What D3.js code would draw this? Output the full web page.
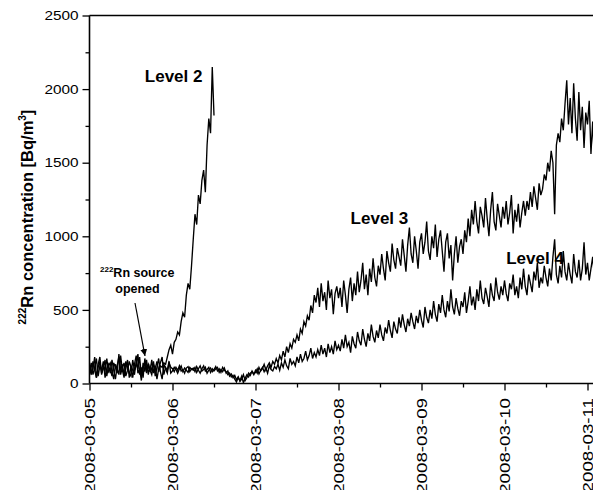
<!DOCTYPE html>
<html>
<head>
<meta charset="utf-8">
<script src="https://cdn.jsdelivr.net/npm/d3@7"></script>
<style>
  body { margin: 0; background: #fff; }
  text { font-family: "Liberation Sans", Arial, sans-serif; fill: #000; }
</style>
</head>
<body>
<div id="wrapper"></div>
<script>
// Readings every 30 minutes, starting 2008-03-05 00:00
const startTime = new Date(2008, 2, 5, 0, 0);
const stepMinutes = 30;

const level2 = [
  130, 70, 100, 180, 40, 110, 150, 60, 120, 90, 170, 80,
  100, 50, 140, 110, 70, 200, 90, 130, 60, 100, 160, 40,
  120, 90, 60, 150, 100, 180, 50, 110, 140, 70, 120, 90,
  60, 130, 100, 150, 80, 120, 110, 140, 130, 180, 230, 260,
  200, 280, 300, 350, 330, 420, 480, 450, 600, 680, 640, 800,
  980, 1150, 1080, 1280, 1220, 1380, 1450, 1300, 1620, 1800, 1700, 2150,
  1820
];

const level3 = [
  80, 140, 60, 110, 170, 50, 120, 90, 150, 40, 100, 130,
  70, 160, 90, 30, 120, 180, 60, 110, 140, 50, 90, 150,
  110, 40, 130, 190, 70, 100, 20, 140, 80, 160, 60, 120,
  90, 150, 50, 110, 170, 80, 30, 130, 100, 70, 140, 110,
  100, 80, 110, 90, 120, 85, 95, 70, 105, 115, 80, 100,
  90, 110, 75, 100, 120, 85, 95, 110, 70, 90, 105, 80,
  95, 115, 85, 100, 75, 110, 90, 80, 60, 70, 45, 55,
  30, 10, 40, 20, 50, 5, 35, 60, 45, 70, 80, 60,
  90, 70, 110, 85, 100, 130, 90, 120, 140, 110, 150, 130,
  170, 140, 190, 160, 220, 180, 250, 210, 270, 240, 300, 280,
  330, 290, 370, 340, 420, 390, 460, 430, 530, 480, 600, 550,
  650, 520, 680, 560, 620, 500, 700, 580, 640, 470, 610, 660,
  580, 650, 520, 700, 600, 480, 640, 720, 560, 680, 600, 760,
  620, 700, 820, 640, 740, 600, 780, 690, 850, 720, 660, 800,
  740, 880, 780, 700, 900, 820, 760, 950, 840, 780, 920, 860,
  800, 980, 870, 760, 940, 1060, 880, 820, 1000, 900, 780, 960,
  1020, 880, 960, 1100, 900, 840, 1000, 920, 1080, 860, 980, 1040,
  900, 760, 960, 1020, 850, 940, 700, 880, 1000, 820, 930, 980,
  880, 1040, 960, 1120, 1000, 1180, 1080, 1240, 1100, 1020, 1200, 1140,
  1060, 1260, 1120, 1000, 1180, 1300, 1100, 1040, 1220, 1140, 1060, 1200,
  1120, 1240, 1080, 1160, 1280, 1020, 1180, 1100, 1220, 1060, 1160, 1240,
  1140, 1240, 1180, 1300, 1200, 1340, 1260, 1180, 1360, 1280, 1320, 1420,
  1380, 1500, 1440, 1580, 1500, 1150, 1620, 1700, 1640, 1800, 1720, 1900,
  2060, 1760, 1940, 1700, 2040, 1800, 1650, 1980, 1720, 1880, 1600, 1840,
  1760, 1920, 1560, 1780, 1500
];

const level4 = [
  110, 60, 150, 90, 40, 130, 180, 70, 100, 160, 50, 120,
  140, 80, 30, 130, 100, 60, 190, 90, 40, 150, 110, 70,
  50, 160, 90, 120, 200, 60, 110, 40, 170, 100, 130, 80,
  160, 70, 120, 30, 100, 140, 180, 60, 110, 90, 150, 70,
  85, 110, 95, 70, 100, 120, 80, 105, 90, 75, 110, 95,
  105, 80, 115, 90, 70, 100, 120, 85, 95, 110, 75, 100,
  85, 100, 110, 75, 95, 80, 105, 70, 85, 50, 65, 40,
  55, 25, 45, 15, 30, 60, 20, 40, 70, 55, 85, 65,
  75, 100, 65, 90, 110, 80, 105, 70, 120, 95, 85, 115,
  100, 130, 90, 140, 110, 160, 120, 100, 170, 130, 150, 120,
  180, 140, 200, 150, 170, 220, 160, 190, 240, 170, 210, 180,
  230, 190, 260, 200, 240, 180, 270, 210, 250, 200, 290, 230,
  260, 220, 300, 240, 330, 250, 280, 210, 320, 270, 240, 350,
  290, 260, 370, 300, 250, 340, 290, 400, 320, 280, 360, 310,
  400, 330, 290, 380, 340, 430, 360, 310, 420, 370, 340, 450,
  380, 470, 400, 350, 440, 390, 480, 420, 370, 460, 410, 500,
  430, 380, 520, 450, 410, 500, 440, 560, 470, 420, 540, 480,
  600, 500, 450, 560, 490, 640, 520, 470, 580, 510, 460, 560,
  520, 620, 480, 560, 660, 530, 590, 500, 640, 560, 700, 580,
  540, 650, 590, 520, 680, 600, 560, 720, 620, 570, 660, 600,
  700, 610, 560, 680, 640, 740, 600, 660, 580, 720, 640, 780,
  660, 600, 740, 680, 620, 760, 700, 820, 650, 720, 680, 800,
  720, 660, 780, 700, 860, 980, 740, 680, 800, 720, 900, 760,
  700, 820, 740, 680, 880, 760, 720, 840, 700, 780, 960, 740,
  820, 700, 780, 860, 720
];

const xTickLabels = ["2008-03-05", "2008-03-06", "2008-03-07", "2008-03-08",
                     "2008-03-09", "2008-03-10", "2008-03-11"];
const yTicks = [0, 500, 1000, 1500, 2000, 2500];
const yMinorTicks = [250, 750, 1250, 1750, 2250];

const seriesLabels = [
  { name: "Level 2", time: "2008-03-05 16:00", value: 2045 },
  { name: "Level 3", time: "2008-03-08 03:30", value: 1085 },
  { name: "Level 4", time: "2008-03-10 00:30", value: 810 }
];

// dimensions
const width = 593;
const height = 490;
const margin = { top: 15.5, left: 89.5 };
const pxPerDay = 83;

const parseDay = d3.timeParse("%Y-%m-%d");
const parseTime = d3.timeParse("%Y-%m-%d %H:%M");
const endTime = d3.timeHour.offset(startTime, 6 * 24 + 2);

const xScale = d3.scaleTime()
  .domain([startTime, endTime])
  .range([margin.left, margin.left + pxPerDay * (6 + 2 / 24)]);

const yScale = d3.scaleLinear()
  .domain([0, 2500])
  .range([383.5, margin.top]);

const svg = d3.select("#wrapper")
  .append("svg")
  .attr("width", width)
  .attr("height", height);

svg.append("defs")
  .append("clipPath")
  .attr("id", "plotClip")
  .append("rect")
  .attr("x", margin.left)
  .attr("y", margin.top - 2)
  .attr("width", width - margin.left)
  .attr("height", yScale(0) - margin.top + 2);

svg.select("defs")
  .append("marker")
  .attr("id", "arrow")
  .attr("viewBox", "0 0 10 10")
  .attr("refX", 10)
  .attr("refY", 5)
  .attr("markerWidth", 7)
  .attr("markerHeight", 7)
  .attr("markerUnits", "userSpaceOnUse")
  .attr("orient", "auto")
  .append("path")
  .attr("d", "M0,0 L10,5 L0,10 z")
  .attr("fill", "#000");

// lines
const toPoints = (values) =>
  values.map((v, i) => ({ t: d3.timeMinute.offset(startTime, i * stepMinutes), v }));

const lineGenerator = d3.line()
  .x((d) => xScale(d.t))
  .y((d) => yScale(d.v));

const linesGroup = svg.append("g").attr("clip-path", "url(#plotClip)");
[level4, level3, level2].forEach((values) => {
  linesGroup.append("path")
    .datum(toPoints(values))
    .attr("d", lineGenerator)
    .attr("fill", "none")
    .attr("stroke", "#000")
    .attr("stroke-width", 1.35)
    .attr("stroke-linejoin", "miter");
});

// top frame line
svg.append("line")
  .attr("x1", margin.left)
  .attr("x2", width)
  .attr("y1", yScale(2500))
  .attr("y2", yScale(2500))
  .attr("stroke", "#000")
  .attr("stroke-width", 1.6);

// x axis
const xMajor = d3.axisBottom(xScale)
  .tickValues(xTickLabels.map(parseDay))
  .tickSize(7)
  .tickFormat(d3.timeFormat("%Y-%m-%d"));

const xAxis = svg.append("g")
  .attr("transform", `translate(0, ${yScale(0)})`)
  .call(xMajor);

xAxis.select(".domain").attr("stroke-width", 1.6).attr("d", `M${margin.left},0H${width}`);
xAxis.selectAll(".tick line").attr("stroke-width", 1.3);
xAxis.selectAll(".tick text")
  .attr("transform", "rotate(-90) scale(1.25, 1)")
  .attr("x", -14.5 / 1.25)
  .attr("y", 0)
  .attr("dy", "0.36em")
  .style("text-anchor", "end")
  .style("font-size", "15px");

svg.append("g")
  .attr("transform", `translate(0, ${yScale(0)})`)
  .call(d3.axisBottom(xScale)
    .tickValues(xTickLabels.map((d) => d3.timeHour.offset(parseDay(d), 12)))
    .tickSize(4)
    .tickFormat(""))
  .call((g) => g.select(".domain").remove())
  .selectAll(".tick line").attr("stroke-width", 1.3);

// y axis
const yAxis = svg.append("g")
  .attr("transform", `translate(${margin.left}, 0)`)
  .call(d3.axisLeft(yScale).tickValues(yTicks).tickSize(7).tickPadding(4)
    .tickFormat(d3.format("d")));

yAxis.select(".domain").attr("stroke-width", 1.6).attr("d", `M0,${yScale(0)}V${yScale(2500)}`);
yAxis.selectAll(".tick line").attr("stroke-width", 1.3);
yAxis.selectAll(".tick text")
  .style("font-size", "13px")
  .attr("transform", "scale(1.18, 1)")
  .attr("x", -11 / 1.18);

svg.append("g")
  .attr("transform", `translate(${margin.left}, 0)`)
  .call(d3.axisLeft(yScale).tickValues(yMinorTicks).tickSize(4).tickFormat(""))
  .call((g) => g.select(".domain").remove())
  .selectAll(".tick line").attr("stroke-width", 1.3);

// y axis title
const yTitle = svg.append("text")
  .attr("transform", `translate(33, 217) rotate(-90)`)
  .style("text-anchor", "middle")
  .style("font-weight", "bold")
  .style("font-size", "16.5px");
yTitle.append("tspan").text("222").style("font-size", "10px").attr("dy", -7);
yTitle.append("tspan").text("Rn concentration [Bq/m").attr("dy", 7);
yTitle.append("tspan").text("3").style("font-size", "10px").attr("dy", -7);
yTitle.append("tspan").text("]").attr("dy", 7);

// series labels
svg.selectAll(".seriesLabel")
  .data(seriesLabels)
  .join("text")
  .attr("class", "seriesLabel")
  .attr("x", (d) => xScale(parseTime(d.time)))
  .attr("y", (d) => yScale(d.value))
  .style("font-weight", "bold")
  .style("font-size", "17px")
  .text((d) => d.name);

// source annotation
const note = svg.append("text")
  .attr("x", 100)
  .attr("y", 277)
  .style("font-weight", "bold")
  .style("font-size", "12.5px");
note.append("tspan").text("222").style("font-size", "8px").attr("dy", -5);
note.append("tspan").text("Rn source").attr("dy", 5);

svg.append("text")
  .attr("x", 137.5)
  .attr("y", 293)
  .style("text-anchor", "middle")
  .style("font-weight", "bold")
  .style("font-size", "12.5px")
  .text("opened");

svg.append("line")
  .attr("x1", 135)
  .attr("y1", 303)
  .attr("x2", 145)
  .attr("y2", 356)
  .attr("stroke", "#000")
  .attr("stroke-width", 1.2)
  .attr("marker-end", "url(#arrow)");
</script>
</body>
</html>
